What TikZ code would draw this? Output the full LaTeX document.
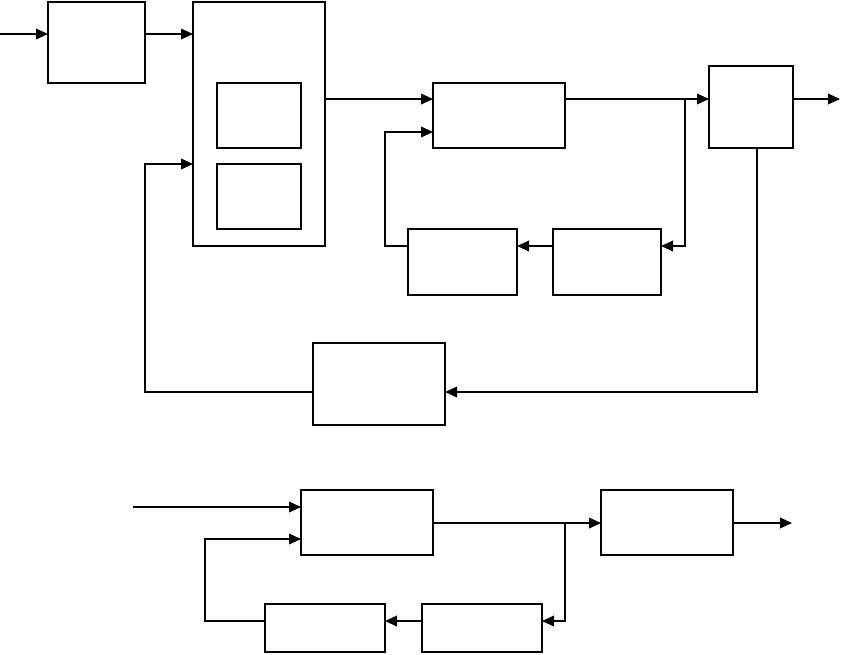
\documentclass[tikz,border=0pt]{standalone}
\usetikzlibrary{arrows.meta}
\begin{document}
\begin{tikzpicture}[x=0.75pt,y=-0.75pt,
  box/.style 2 args={draw=black,line width=1.3pt,fill=white,inner sep=0pt,outer sep=0pt,
    minimum width=#1*0.75pt,minimum height=#2*0.75pt},
  wire/.style={draw=black,line width=1.1pt},
  arr/.style={wire,-{Triangle[length=9pt,width=8pt]}}]
\useasboundingbox (0,0) rectangle (842,654);
% top diagram boxes
\node[box={97}{81}] (A) at (96.5,42.5) {};
\node[box={132}{244}] (B) at (259,124) {};
\node[box={84}{65}] (B1) at (259,115.5) {};
\node[box={84}{65}] (B2) at (259,196.5) {};
\node[box={132}{65}] (C) at (499,115.5) {};
\node[box={84}{82}] (D) at (751,107) {};
\node[box={109}{66}] (E) at (462.5,262) {};
\node[box={108}{66}] (F) at (607,262) {};
\node[box={132}{82}] (G) at (379,384) {};
% coordinates
\coordinate (in1) at (0,34);
\coordinate (r1) at (0,99);
\coordinate (br1) at (685,99);
\coordinate (y246) at (0,246);
\coordinate (cl) at (385,132);
\coordinate (dg) at (757,392);
\coordinate (gb) at (145,164);
\coordinate (out1) at (840,99);
% top connectors
\draw[arr] (in1) -- (in1 -| A.west);
\draw[arr] (A.east |- in1) -- (B.west |- in1);
\draw[arr] (B.east |- r1) -- (C.west |- r1);
\draw[arr] (C.east |- r1) -- (D.west |- r1);
\draw[arr] (br1) |- (F.east |- y246);
\draw[arr] (F.west |- y246) -- (E.east |- y246);
\draw[arr] (E.west |- y246) -| (cl) -- (C.west |- cl);
\draw[arr] (D.south -| dg) -- (dg) -- (G.east |- dg);
\draw[arr] (G.west |- dg) -| (gb) -- (B.west |- gb);
\draw[arr] (D.east |- r1) -- (out1);
% bottom diagram boxes
\node[box={132}{65}] (H) at (367,522.5) {};
\node[box={132}{65}] (I) at (667,522.5) {};
\node[box={120}{48}] (J) at (325,628) {};
\node[box={120}{48}] (K) at (482,628) {};
\coordinate (in2) at (133,507);
\coordinate (m) at (565,523);
\coordinate (y621) at (0,621);
\coordinate (jl) at (205,539);
\coordinate (out2) at (792,523);
% bottom connectors
\draw[arr] (in2) -- (H.west |- in2);
\draw[arr] (H.east |- m) -- (I.west |- m);
\draw[arr] (m) |- (K.east |- y621);
\draw[arr] (K.west |- y621) -- (J.east |- y621);
\draw[arr] (J.west |- y621) -| (jl) -- (H.west |- jl);
\draw[arr] (I.east |- m) -- (out2);
\end{tikzpicture}
\end{document}
